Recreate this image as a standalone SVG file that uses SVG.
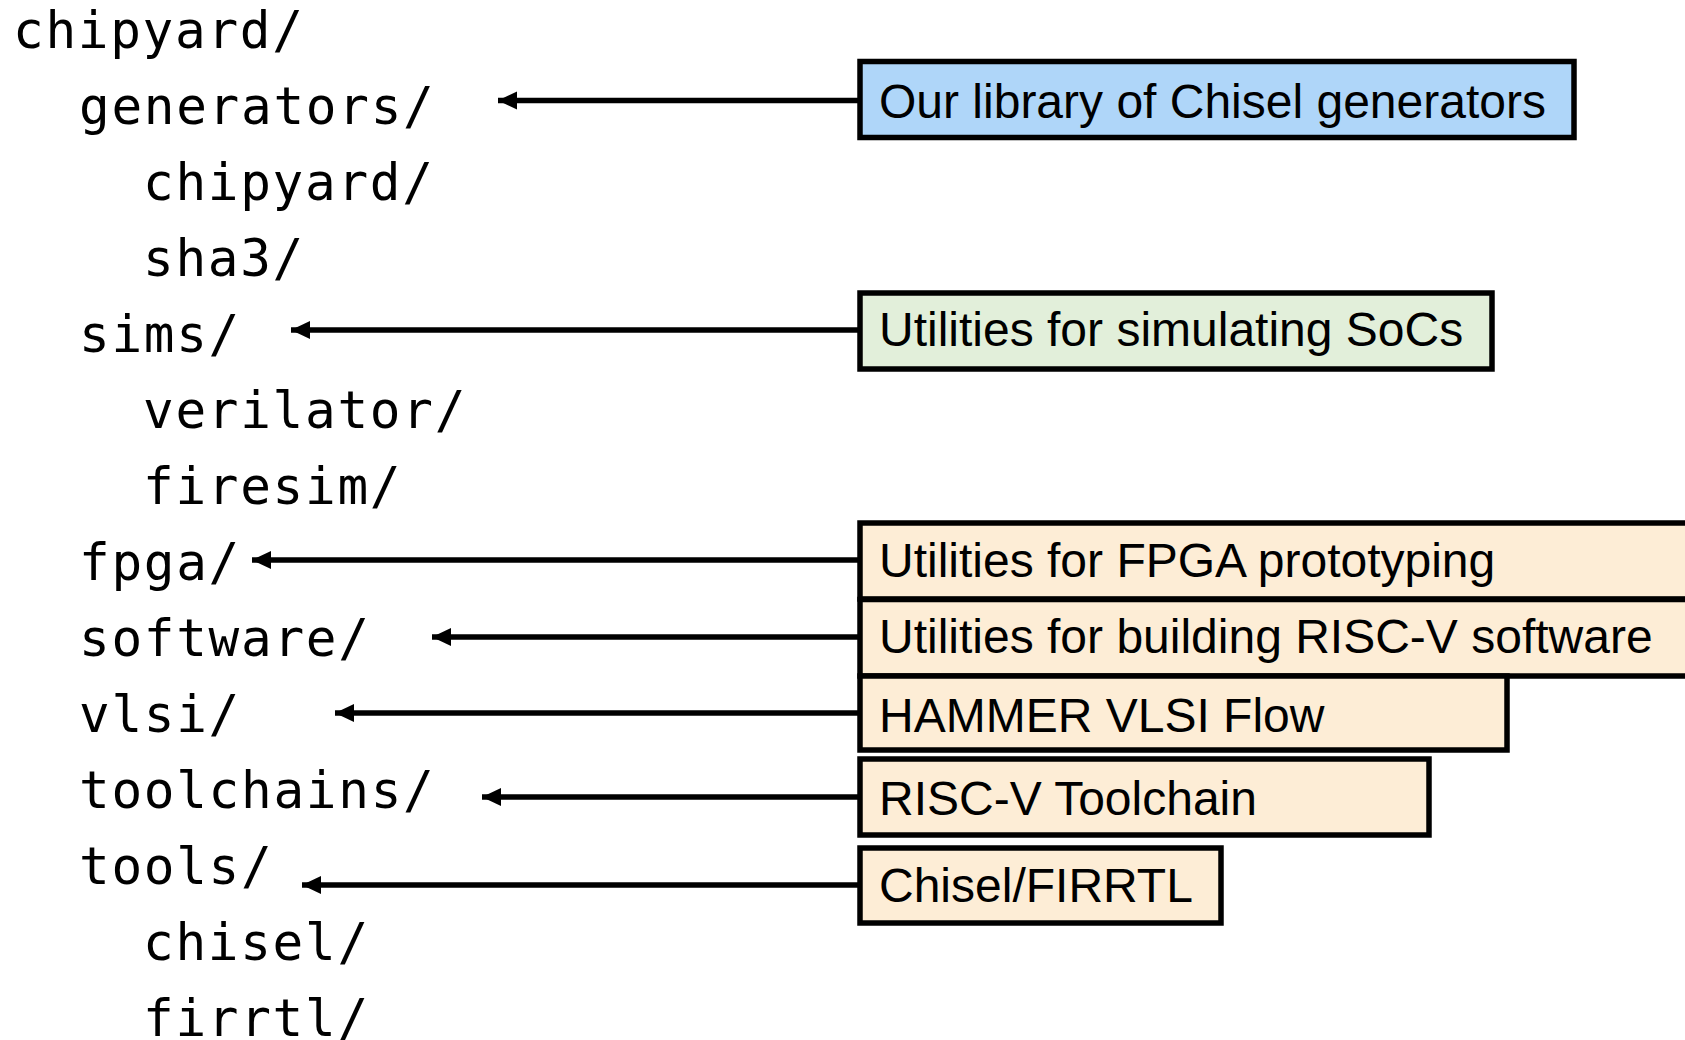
<svg xmlns="http://www.w3.org/2000/svg" width="1685" height="1040" viewBox="0 0 1685 1040">
  <style>
    .dir { font-family: "DejaVu Sans Mono", "Liberation Mono", monospace; font-size: 51px; letter-spacing: 1.7px; fill: #000; }
    .box { stroke: #000; stroke-width: 5.5; }
    .lbl { font-family: "Liberation Sans", Arial, sans-serif; font-size: 48px; fill: #000; }
    .blue { fill: #AFD6F9; }
    .green { fill: #E2EFDA; }
    .tan { fill: #FDEDD6; }
    .conn { stroke: #000; stroke-width: 5.5; fill: none; marker-end: url(#arrow); }
  </style>
  <defs>
    <marker id="arrow" markerUnits="userSpaceOnUse" markerWidth="22" markerHeight="20" refX="19" refY="10" orient="auto">
      <path d="M0,1 L19,10 L0,19 Z" fill="#000"/>
    </marker>
  </defs>
  <rect width="1685" height="1040" fill="#fff"/>

  <g id="tree">
    <text class="dir" x="13" y="48">chipyard/</text>
    <text class="dir" x="79" y="124">generators/</text>
    <text class="dir" x="143" y="200">chipyard/</text>
    <text class="dir" x="143" y="276">sha3/</text>
    <text class="dir" x="79" y="352">sims/</text>
    <text class="dir" x="143" y="428">verilator/</text>
    <text class="dir" x="143" y="504">firesim/</text>
    <text class="dir" x="79" y="580">fpga/</text>
    <text class="dir" x="79" y="656">software/</text>
    <text class="dir" x="79" y="732">vlsi/</text>
    <text class="dir" x="79" y="808">toolchains/</text>
    <text class="dir" x="79" y="884">tools/</text>
    <text class="dir" x="143" y="960">chisel/</text>
    <text class="dir" x="143" y="1036">firrtl/</text>
  </g>

  <g id="connectors">
    <line class="conn" x1="858" y1="100.5" x2="498" y2="100.5"/>
    <line class="conn" x1="858" y1="330" x2="291" y2="330"/>
    <line class="conn" x1="858" y1="560" x2="252" y2="560"/>
    <line class="conn" x1="858" y1="637" x2="432" y2="637"/>
    <line class="conn" x1="858" y1="713" x2="335" y2="713"/>
    <line class="conn" x1="858" y1="797" x2="482" y2="797"/>
    <line class="conn" x1="858" y1="885" x2="302" y2="885"/>
  </g>

  <g id="node-generators">
    <rect class="box blue" x="860" y="61.5" width="714" height="76"/>
    <text class="lbl" x="879" y="118">Our library of Chisel generators</text>
  </g>
  <g id="node-sims">
    <rect class="box green" x="860" y="293" width="632" height="76"/>
    <text class="lbl" x="879" y="346">Utilities for simulating SoCs</text>
  </g>
  <g id="node-fpga">
    <rect class="box tan" x="860" y="523" width="840" height="76"/>
    <text class="lbl" x="879" y="577">Utilities for FPGA prototyping</text>
  </g>
  <g id="node-software">
    <rect class="box tan" x="860" y="599.5" width="840" height="76.5"/>
    <text class="lbl" x="879" y="653">Utilities for building RISC-V software</text>
  </g>
  <g id="node-vlsi">
    <rect class="box tan" x="860" y="676" width="647" height="74"/>
    <text class="lbl" x="879" y="732">HAMMER VLSI Flow</text>
  </g>
  <g id="node-toolchains">
    <rect class="box tan" x="860" y="759" width="569" height="76"/>
    <text class="lbl" x="879" y="815">RISC-V Toolchain</text>
  </g>
  <g id="node-tools">
    <rect class="box tan" x="860" y="848" width="361" height="75"/>
    <text class="lbl" x="879" y="902">Chisel/FIRRTL</text>
  </g>
</svg>
